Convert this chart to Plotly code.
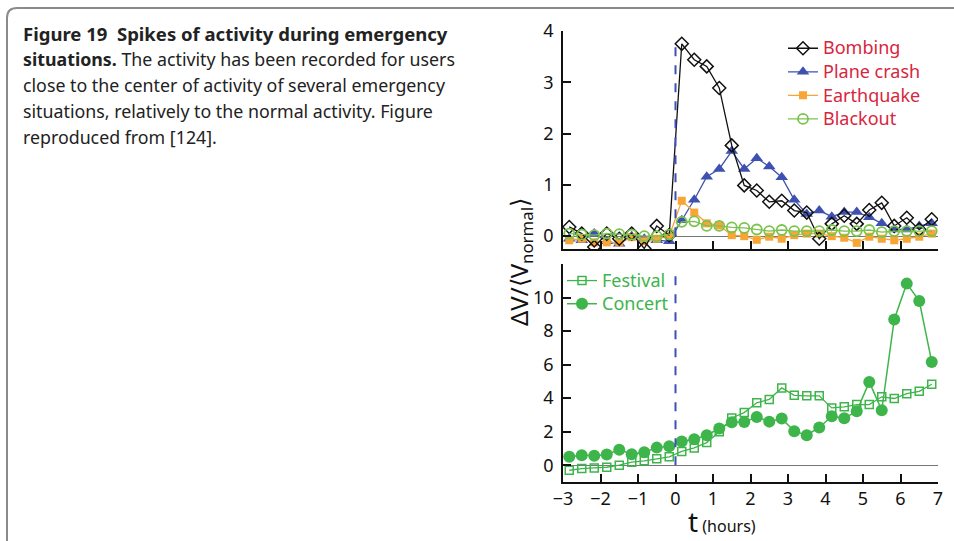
import plotly.graph_objects as go

# time points (hours), step of 20 minutes
t = [-2.833, -2.5, -2.167, -1.833, -1.5, -1.167, -0.833, -0.5, -0.167,
     0.167, 0.5, 0.833, 1.167, 1.5, 1.833, 2.167, 2.5, 2.833, 3.167,
     3.5, 3.833, 4.167, 4.5, 4.833, 5.167, 5.5, 5.833, 6.167, 6.5, 6.833]

bombing = [0.18, 0.05, -0.21, 0.05, -0.05, 0.05, -0.24, 0.20, 0.02,
           3.75, 3.44, 3.31, 2.89, 1.77, 0.99, 0.89, 0.67, 0.69, 0.50,
           0.46, -0.05, 0.24, 0.40, 0.24, 0.51, 0.65, 0.20, 0.36, 0.13, 0.33]
plane_crash = [-0.05, -0.08, 0.05, -0.10, -0.15, 0.00, -0.05, -0.08, -0.10,
               0.31, 0.71, 1.16, 1.31, 1.66, 1.31, 1.52, 1.36, 1.15, 0.71,
               0.43, 0.50, 0.38, 0.47, 0.47, 0.37, 0.25, 0.13, 0.13, 0.20, 0.25]
earthquake = [-0.08, -0.05, -0.12, -0.12, -0.12, -0.02, -0.10, -0.05, 0.00,
              0.69, 0.46, 0.25, 0.21, 0.02, 0.00, -0.07, -0.01, -0.05, 0.02,
              0.05, 0.05, 0.00, -0.03, -0.13, -0.01, -0.05, -0.08, -0.05, -0.01, 0.05]
blackout = [0.05, 0.03, 0.02, 0.05, 0.04, 0.03, 0.00, 0.00, 0.03,
            0.28, 0.29, 0.20, 0.20, 0.17, 0.16, 0.13, 0.10, 0.12, 0.10,
            0.10, 0.10, 0.12, 0.10, 0.10, 0.12, 0.08, 0.10, 0.10, 0.10, 0.10]
festival = [-0.30, -0.20, -0.16, -0.12, 0.00, 0.18, 0.26, 0.38, 0.50,
            0.82, 1.03, 1.35, 1.99, 2.82, 3.14, 3.72, 3.92, 4.61, 4.17,
            4.14, 4.14, 3.42, 3.48, 3.62, 3.62, 4.08, 3.98, 4.27, 4.41, 4.83]
concert = [0.50, 0.60, 0.56, 0.64, 0.93, 0.66, 0.78, 1.05, 1.13,
           1.41, 1.55, 1.79, 2.19, 2.56, 2.58, 2.88, 2.60, 2.78, 2.03,
           1.79, 2.25, 2.92, 2.80, 3.22, 4.97, 3.28, 8.69, 10.83, 9.80, 6.16]

x_ticks = [-3, -2, -1, 0, 1, 2, 3, 4, 5, 6, 7]
top_y_ticks = [0, 1, 2, 3, 4]
bottom_y_ticks = [0, 2, 4, 6, 8, 10]
bottom_y_extra_tick = [12]

caption_lines = [
    "<b>Figure 19  Spikes of activity during emergency</b>",
    "<b>situations.</b> The activity has been recorded for users",
    "close to the center of activity of several emergency",
    "situations, relatively to the normal activity. Figure",
    "reproduced from [124].",
]
caption_sizes = [18.5, 17.8, 17.8, 17.8, 17.8]

W, H = 954, 541
FONT = "Noto Sans"
BLACK = "#111111"
BLUE = "#3f51b0"
ORANGE = "#f7a535"
LGREEN = "#7cc24e"
GREEN = "#3db54a"
RED = "#d7263d"


def px_x(p):
    return p / W


def px_y(p):
    return 1 - p / H


def lg(name):
    return f"<span style='font-size:18px'>{name}</span>"


fig = go.Figure()

# top panel
fig.add_trace(go.Scatter(x=t, y=plane_crash, name=lg("Plane crash"), mode="lines+markers",
                         line=dict(color=BLUE, width=1.3),
                         marker=dict(symbol="triangle-up", size=11, color=BLUE),
                         xaxis="x", yaxis="y", legend="legend", legendrank=2))
fig.add_trace(go.Scatter(x=t, y=earthquake, name=lg("Earthquake"), mode="lines+markers",
                         line=dict(color=ORANGE, width=1.3),
                         marker=dict(symbol="square", size=8, color=ORANGE),
                         xaxis="x", yaxis="y", legend="legend", legendrank=3))
fig.add_trace(go.Scatter(x=t, y=bombing, name=lg("Bombing"), mode="lines+markers",
                         line=dict(color=BLACK, width=1.3),
                         marker=dict(symbol="diamond-open", size=10, color=BLACK,
                                     line=dict(width=1.5)),
                         xaxis="x", yaxis="y", legend="legend", legendrank=1))
fig.add_trace(go.Scatter(x=t, y=blackout, name=lg("Blackout"), mode="lines+markers",
                         line=dict(color=LGREEN, width=1.3),
                         marker=dict(symbol="circle-open", size=10, color=LGREEN,
                                     line=dict(width=1.8)),
                         xaxis="x", yaxis="y", legend="legend", legendrank=4))

# bottom panel
fig.add_trace(go.Scatter(x=t, y=festival, name=lg("Festival"), mode="lines+markers",
                         line=dict(color=GREEN, width=1.3),
                         marker=dict(symbol="square-open", size=8, color=GREEN,
                                     line=dict(width=1.5)),
                         xaxis="x2", yaxis="y2", legend="legend2", legendrank=1))
fig.add_trace(go.Scatter(x=t, y=concert, name=lg("Concert"), mode="lines+markers",
                         line=dict(color=GREEN, width=1.5),
                         marker=dict(symbol="circle", size=12, color=GREEN),
                         xaxis="x2", yaxis="y2", legend="legend2", legendrank=2))

x_dom = [px_x(563), px_x(938)]
tickfont = dict(family=FONT, size=18, color="#111111")

fig.update_layout(
    width=W, height=H,
    margin=dict(l=0, r=0, t=0, b=0, pad=0, autoexpand=False),
    paper_bgcolor="white", plot_bgcolor="white",
    font=dict(family=FONT, color="#111111"),
    xaxis=dict(domain=x_dom, anchor="y", range=[-3, 7], tickvals=x_ticks,
               showticklabels=False, ticks="inside", ticklen=8, tickwidth=1.5,
               tickcolor="#111111", showline=True, linecolor="#111111", linewidth=1.5,
               showgrid=False, zeroline=False),
    yaxis=dict(domain=[px_y(249), px_y(31)], anchor="x", range=[-0.25, 4],
               tickvals=top_y_ticks, ticks="inside", ticklen=8, tickwidth=1.5,
               tickcolor="#111111", showline=True, linecolor="#111111", linewidth=1.5,
               showgrid=False, zeroline=True, zerolinecolor="#777777", zerolinewidth=1,
               tickfont=tickfont, ticklabelstandoff=4),
    xaxis2=dict(domain=x_dom, anchor="y2", range=[-3, 7], tickvals=x_ticks,
                ticks="inside", ticklen=8, tickwidth=1.5, tickcolor="#111111",
                showline=True, linecolor="#111111", linewidth=1.5,
                showgrid=False, zeroline=False, tickfont=tickfont),
    yaxis2=dict(domain=[px_y(482), px_y(264)], anchor="x2", range=[-1, 12],
                tickvals=bottom_y_ticks,
                ticks="inside", ticklen=8, tickwidth=1.5, tickcolor="#111111",
                minor=dict(tickvals=bottom_y_extra_tick, ticks="inside", ticklen=8,
                           tickwidth=1.5, tickcolor="#111111", showgrid=False),
                showline=True, linecolor="#111111", linewidth=1.5,
                showgrid=False, zeroline=True, zerolinecolor="#777777", zerolinewidth=1,
                tickfont=tickfont, ticklabelstandoff=4),
    legend=dict(x=px_x(783), y=px_y(31.5), xanchor="left", yanchor="top",
                bgcolor="rgba(0,0,0,0)", font=dict(family=FONT, size=15.8, color=RED),
                itemwidth=30, tracegroupgap=0, itemclick=False),
    legend2=dict(x=px_x(562), y=px_y(264), xanchor="left", yanchor="top",
                 bgcolor="rgba(0,0,0,0)", font=dict(family=FONT, size=15.5, color=GREEN),
                 itemwidth=30, tracegroupgap=0, itemclick=False),
    showlegend=True,
)

# dashed vertical line at t = 0
fig.add_shape(type="line", xref="x", yref="y", x0=0, x1=0, y0=0, y1=3.84,
              line=dict(color="#3f51b0", width=2, dash="dash"))
fig.add_shape(type="line", xref="x2", yref="y2", x0=0, x1=0, y0=0, y1=11.5,
              line=dict(color="#3f51b0", width=2, dash="dash"))

# rounded border frame
path = (f"M {px_x(7)},{px_y(545)} L {px_x(7)},{px_y(18)} "
        f"Q {px_x(7)},{px_y(8)} {px_x(17)},{px_y(8)} L {px_x(960)},{px_y(8)}")
fig.add_shape(type="path", xref="paper", yref="paper", path=path,
              line=dict(color="#8a8a8a", width=2))

# caption
line_y = [33, 59, 85, 111, 137]
for txt, yy, sz in zip(caption_lines, line_y, caption_sizes):
    fig.add_annotation(text=txt, xref="paper", yref="paper", x=px_x(21), y=px_y(yy),
                       xanchor="left", yanchor="middle", showarrow=False,
                       font=dict(family=FONT, size=sz, color="#222222"))

# axis titles
fig.add_annotation(text="ΔV/⟨V<sub>normal</sub>⟩", xref="paper", yref="paper",
                   x=px_x(520), y=px_y(262), textangle=-90, showarrow=False,
                   xanchor="center", yanchor="middle",
                   font=dict(family=FONT, size=24, color="#111111"))
fig.add_annotation(text="<span style='font-size:28px'>t</span> (hours)",
                   xref="paper", yref="paper", x=px_x(722), y=px_y(521),
                   showarrow=False, xanchor="center", yanchor="middle",
                   font=dict(family=FONT, size=16, color="#111111"))

fig.write_html("out.html")
